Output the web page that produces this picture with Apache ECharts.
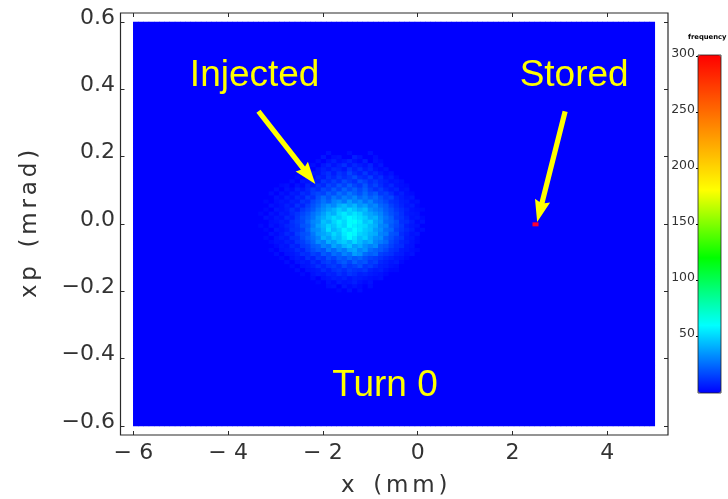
<!DOCTYPE html>
<html><head><meta charset="utf-8">
<script src="https://cdn.jsdelivr.net/npm/echarts@6/dist/echarts.min.js"></script>
<style>html,body{margin:0;padding:0;background:#fff}#c{width:728px;height:499px}</style>
</head><body><div id="c"></div>
<script>
const xTicks=[-6,-4,-2,0,2,4];
const yTicks=[-0.6,-0.4,-0.2,0,0.2,0.4,0.6];
const barTicks=[50,100,150,200,250,300];
const binsX=100, binsY=100;
const blobFirstCol=24, blobFirstRow=32;
const blobRows=[
[1,1,1,1,1,1,1,1,1,1,1,1,1,5,1,1,1,4,1,1,1,5,1,1,1,1,1,1,1,1,1,1,1],
[1,1,1,1,1,1,1,1,1,1,1,1,6,1,4,5,1,1,8,5,1,1,4,1,1,1,1,1,1,1,1,1,1],
[1,1,1,1,1,1,1,1,1,1,1,4,1,5,8,4,6,9,5,3,8,1,5,3,1,1,1,1,1,1,1,1,1],
[1,1,1,1,1,1,1,1,1,1,4,1,6,9,5,8,12,6,10,7,5,9,3,6,1,1,1,1,1,1,1,1,1],
[1,1,1,1,1,1,1,1,1,4,1,5,8,6,10,9,6,13,8,12,7,10,5,3,5,1,1,1,1,1,1,1,1],
[1,1,1,1,1,1,1,1,4,1,6,5,9,12,7,13,10,17,11,8,14,7,10,6,3,5,1,1,1,1,1,1,1],
[1,1,1,1,1,1,1,3,1,5,3,9,7,13,10,15,11,14,19,12,10,15,8,11,5,7,3,1,1,1,1,1,1],
[1,1,1,1,1,1,4,1,6,5,10,7,14,11,16,12,19,15,12,20,16,11,14,10,8,5,6,4,1,1,1,1,1],
[1,1,1,1,3,4,1,5,3,9,6,13,10,17,14,21,16,23,17,14,21,13,17,11,7,10,5,4,3,1,1,1,1],
[1,1,1,4,1,5,3,8,6,10,14,11,18,15,22,17,25,19,24,18,23,16,12,15,10,7,9,4,5,1,1,1,1],
[1,1,4,1,5,3,7,6,11,9,15,18,16,23,19,27,22,29,24,20,26,19,22,14,16,11,6,8,4,3,1,1,1],
[1,1,1,5,3,7,5,10,8,15,12,20,26,21,29,24,31,27,33,25,29,23,26,20,15,17,10,7,5,6,1,1,1],
[1,3,1,4,6,5,8,7,13,11,18,22,28,24,32,35,29,38,31,35,27,32,24,22,18,13,11,8,7,4,5,1,1],
[1,1,5,3,5,8,6,12,9,15,20,25,31,36,33,41,45,39,44,35,38,30,33,25,22,16,12,9,6,7,3,1,1],
[1,3,1,6,5,7,11,8,14,18,22,29,34,39,43,49,44,52,47,42,45,35,31,29,23,19,14,11,8,5,4,3,1],
[3,1,5,3,7,6,10,13,17,21,27,32,38,45,42,52,56,50,55,51,43,40,36,32,25,20,16,12,7,6,5,1,1],
[1,5,3,6,5,10,8,14,19,23,28,36,41,47,53,49,55,60,57,53,49,41,43,34,28,23,15,13,9,5,6,3,1],
[1,1,4,5,7,6,12,15,18,25,32,35,46,43,51,57,52,60,62,56,47,50,40,36,26,24,19,12,11,7,3,5,1],
[3,1,5,3,6,9,11,14,20,22,30,39,44,51,48,55,51,61,57,54,52,45,42,33,31,22,18,14,8,6,5,1,1],
[1,3,1,6,5,7,12,13,16,24,33,35,42,53,45,50,58,54,60,55,49,46,38,35,27,25,16,13,10,7,3,4,1],
[1,1,5,3,6,10,8,15,19,21,29,37,40,44,52,47,56,62,59,51,48,43,41,32,30,21,19,11,8,5,6,1,1],
[1,3,1,5,7,6,11,12,18,23,27,32,43,39,48,45,53,60,54,46,50,41,35,34,24,20,15,13,7,6,3,1,1],
[1,1,3,5,5,8,7,13,15,20,25,34,31,42,38,46,49,44,52,45,39,42,33,30,26,18,14,10,8,5,3,1,1],
[1,1,1,3,6,5,10,8,14,16,22,24,32,29,40,35,43,47,38,42,35,31,34,23,21,16,12,11,6,5,1,1,1],
[1,1,3,1,5,6,7,11,9,15,19,23,21,31,26,34,30,39,41,33,36,27,24,22,18,13,11,7,6,4,3,1,1],
[1,1,1,4,1,5,6,8,12,11,16,14,22,19,27,24,32,28,38,35,26,23,25,16,14,12,8,7,4,5,1,1,1],
[1,1,1,1,3,1,5,7,6,12,9,15,13,20,17,23,21,26,22,25,20,17,15,13,10,8,6,5,3,1,1,1,1],
[1,1,1,1,1,4,1,5,7,6,11,8,14,16,13,19,22,17,24,19,21,14,16,10,8,6,7,3,1,1,1,1,1],
[1,1,1,1,1,1,3,1,5,6,8,12,9,13,15,12,18,14,16,20,13,15,11,8,7,5,4,1,1,1,1,1,1],
[1,1,1,1,1,1,1,4,1,5,6,7,11,8,12,14,11,15,13,12,14,9,7,8,5,3,3,1,1,1,1,1,1],
[1,1,1,1,1,1,1,1,3,1,5,7,6,9,8,12,9,13,11,8,9,7,6,5,3,1,1,1,1,1,1,1,1],
[1,1,1,1,1,1,1,1,1,1,4,1,5,6,8,7,9,6,8,7,6,5,4,5,1,1,1,1,1,1,1,1,1],
[1,1,1,1,1,1,1,1,1,1,1,3,1,5,3,7,5,6,8,5,3,5,1,1,1,1,1,1,1,1,1,1,1],
[1,1,1,1,1,1,1,1,1,1,1,1,1,4,5,1,6,3,5,3,1,4,1,1,1,1,1,1,1,1,1,1,1],
[1,1,1,1,1,1,1,1,1,1,1,1,1,1,1,3,1,5,1,4,1,1,1,1,1,1,1,1,1,1,1,1,1]
];
const storedPoint=[2.485,-0.001,300];
const arrowStart=[[-3.36,0.335],[3.11,0.335]];
const arrowTip=[[-2.16,0.119],[2.52,0.006]];
const notes=[[-3.44,0.441,'Injected'],[3.3,0.441,'Stored'],[-0.69,-0.481,'Turn 0']];

const ink='#333', font='Liberation Sans', axisFont='"DejaVu Sans ExtraLight","DejaVu Sans"';
const S='\u2006';
const minusX=v=>String(v).replace('-','\u2212\u2004');
const minusY=v=>v.toFixed(1).replace('-','\u2212');
const xCats=[],yCats=[];
for(let i=0;i<binsX;i++)xCats.push(i);
for(let j=0;j<binsY;j++)yCats.push(j);
const cells=[];
for(let i=0;i<binsX;i++)for(let j=0;j<binsY;j++){
  const r=blobRows[j-blobFirstRow], v=r&&r[i-blobFirstCol];
  cells.push([i,binsY-1-j,v||1]);
}
const frameX={min:-6.27,max:5.28},frameY={min:-0.627,max:0.627};
const noLine={show:false,onZero:false};
const arrowData=arrowStart.map((s,k)=>[s[0],s[1],arrowTip[k][0],arrowTip[k][1]]);
function renderArrow(params,api){
  const a=api.coord([api.value(0),api.value(1)]), b=api.coord([api.value(2),api.value(3)]);
  const dx=b[0]-a[0],dy=b[1]-a[1],L=Math.hypot(dx,dy),ux=dx/L,uy=dy/L,nx=-uy,ny=ux;
  const headLen=22,notch=2,headHalf=7.8,shaftHalf=2.6;
  const at=(along,side)=>[b[0]-ux*along+nx*side,b[1]-uy*along+ny*side];
  return {type:'polygon',shape:{points:[
    [a[0]+nx*shaftHalf,a[1]+ny*shaftHalf],at(headLen-notch,shaftHalf),at(headLen,headHalf),[b[0],b[1]],
    at(headLen,-headHalf),at(headLen-notch,-shaftHalf),[a[0]-nx*shaftHalf,a[1]-ny*shaftHalf]]},
    style:{fill:'#ffff00'}};
}
const chart=echarts.init(document.getElementById('c'),null,{renderer:'canvas'});
chart.setOption({
  animation:false,
  title:{text:'frequency',left:688,top:34,padding:0,textStyle:{fontSize:6.8,fontWeight:'bold',color:'#000',fontFamily:'DejaVu Sans'}},
  grid:[
    {left:120.5,top:13,width:547.5,height:422,outerBoundsMode:'none',show:true,borderColor:'#2a2a2a',borderWidth:1.2,backgroundColor:'transparent',z:5},
    {left:133.3,top:22,width:521.5,height:404,outerBoundsMode:'none',show:true,backgroundColor:'#0000ff',borderWidth:0,z:1},
    {left:698,top:55,width:23,height:338,outerBoundsMode:'none',show:true,borderColor:'#222',borderWidth:0.8,backgroundColor:'transparent',z:6}
  ],
  xAxis:[
    {type:'value',gridIndex:0,position:'bottom',...frameX,splitLine:{show:false},axisLine:noLine,
     axisTick:{inside:true,length:4,customValues:xTicks,lineStyle:{color:'#2a2a2a',width:1}},
     axisLabel:{customValues:xTicks,formatter:minusX,margin:7.5,fontSize:22,color:ink,fontFamily:axisFont},
     name:'x  '+S+'(mm)'.split('').join(S),nameLocation:'middle',nameGap:39.5,nameTextStyle:{fontSize:23,color:ink,fontFamily:axisFont}},
    {type:'value',gridIndex:0,position:'top',...frameX,splitLine:{show:false},axisLine:noLine,
     axisTick:{inside:true,length:4,customValues:xTicks,lineStyle:{color:'#2a2a2a',width:1}},axisLabel:{show:false}},
    {type:'category',gridIndex:1,data:xCats,show:false},
    {type:'value',gridIndex:2,show:false,min:0,max:1}
  ],
  yAxis:[
    {type:'value',gridIndex:0,position:'left',...frameY,splitLine:{show:false},axisLine:noLine,
     axisTick:{inside:true,length:4,customValues:yTicks,lineStyle:{color:'#2a2a2a',width:1}},
     axisLabel:{customValues:yTicks,formatter:minusY,margin:5.5,fontSize:22,color:ink,fontFamily:axisFont,verticalAlign:'bottom',lineHeight:8},
     name:('xp').split('').join(S)+'  '+S+'(mrad)'.split('').join(S),nameLocation:'middle',nameGap:79,nameTextStyle:{fontSize:23,color:ink,fontFamily:axisFont}},
    {type:'value',gridIndex:0,position:'right',...frameY,splitLine:{show:false},axisLine:noLine,
     axisTick:{inside:true,length:4,customValues:yTicks,lineStyle:{color:'#2a2a2a',width:1}},axisLabel:{show:false}},
    {type:'category',gridIndex:1,data:yCats,show:false},
    {type:'value',gridIndex:2,position:'left',min:-0.9,max:300.9,splitLine:{show:false},axisLine:noLine,
     axisTick:{length:2,customValues:barTicks,lineStyle:{color:'#000',width:1}},
     axisLabel:{customValues:barTicks,margin:3,fontSize:12.5,color:ink,fontFamily:axisFont,verticalAlign:'bottom',lineHeight:4}}
  ],
  visualMap:{type:'continuous',seriesIndex:0,min:1,max:300,calculable:false,orient:'vertical',left:698,top:55,padding:0,
    itemWidth:23,itemHeight:338,text:null,showLabel:false,borderRadius:0,
    inRange:{color:['#0000ff','#00ffff','#00ff00','#ffff00','#ff8000','#ff0000']}},
  series:[
    {type:'heatmap',xAxisIndex:2,yAxisIndex:2,data:cells,progressive:0,emphasis:{disabled:true},itemStyle:{borderWidth:0},z:2},
    {type:'scatter',xAxisIndex:0,yAxisIndex:0,data:[storedPoint],symbol:'rect',symbolSize:[6,4],
     itemStyle:{color:'#ff0030',opacity:1},z:6,silent:true},
    {type:'custom',xAxisIndex:0,yAxisIndex:0,data:arrowData,renderItem:renderArrow,z:7,silent:true,clip:false},
    {type:'scatter',xAxisIndex:0,yAxisIndex:0,symbolSize:0,data:notes,z:8,silent:true,itemStyle:{opacity:1},
     label:{show:true,position:'inside',formatter:p=>p.value[2],color:'#ffff00',opacity:1,fontSize:37,fontFamily:font}}
  ]
});
</script></body></html>
